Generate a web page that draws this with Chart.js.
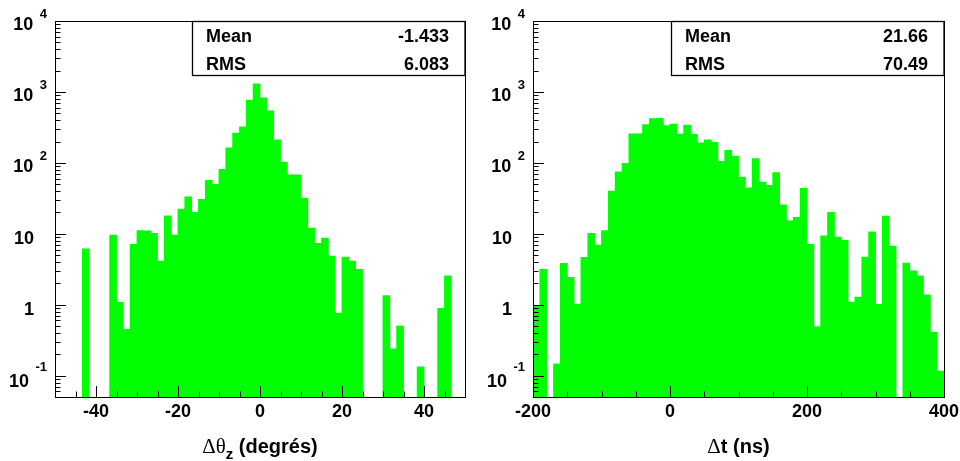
<!DOCTYPE html>
<html><head><meta charset="utf-8">
<script src="https://cdn.jsdelivr.net/npm/chart.js@4.4.0/dist/chart.umd.min.js"></script>
<style>
html,body{margin:0;padding:0;background:#fff;}
#wrap{position:relative;width:960px;height:461px;background:#fff;}
.pane{position:absolute;top:0;width:480px;height:461px;}
canvas{display:block;}
</style></head><body>
<div id="wrap">
<div class="pane" style="left:0"><canvas id="c1" width="480" height="461"></canvas></div>
<div class="pane" style="left:480px"><canvas id="c2" width="480" height="461"></canvas></div>
</div>
<script>
// ---- data ----
const thetaRange = [-50, 50];
const thetaCounts = [
  null, null, null, null, 6.1, null, null, null, 9.6, 1.08,
  0.45, 7.1, 11.1, 11.0, 10.1, 4.1, 17.9, 9.6, 22.3, 33.2,
  20.0, 30.5, 56.5, 49.6, 80.7, 162, 262, 321, 764, 1297,
  823, 540, 211, 102, 67.8, 67.8, 31.5, 12.0, 7.3, 8.7,
  4.85, 0.76, 4.7, 4.1, 3.15, null, null, null, 1.34, 0.238,
  0.5, null, null, 0.133, null, null, 0.89, 2.54, null, null
];
const dtRange = [-200, 400];
const dtCounts = [
  0.97, 3.15, null, 0.146, 3.83, 2.43, 1.02, 4.65, 10.1, 6.9,
  11.1, 40, 74.6, 98, 256, 256, 347, 421, 425, 336,
  351, 254, 340, 251, 191, 211, 194, 105, 150, 124,
  63, 44.5, 115, 53.5, 48, 73, 25.6, 15.2, 17, 43.5,
  7.1, 0.49, 9.3, 20, 9.0, 8.1, 1.09, 1.28, 4.7, 10.6,
  1.01, 17.7, 6.7, null, 3.87, 3.0, 2.54, 1.37, 0.41, 0.116
];
const thetaMajorTicks = [-40, -20, 0, 20, 40];
const thetaMinorTicks = [-45, -35, -30, -25, -15, -10, -5, 5, 10, 15, 25, 30, 35, 45];
const dtMajorTicks = [-200, 0, 200, 400];
const dtMinorTicks = [-150, -100, -50, 50, 100, 150, 250, 300, 350];
const yRange = [0.05, 10000];
const yMajorTicks = [0.1, 1, 10, 100, 1000, 10000];
const yLabelMantissa = ["10", "1", "10", "10", "10", "10"];
const yLabelExponent = ["-1", "", "", "2", "3", "4"];
const yMinorTicks = [0.06, 0.07, 0.08, 0.09,
  0.2, 0.3, 0.4, 0.5, 0.6, 0.7, 0.8, 0.9,
  2, 3, 4, 5, 6, 7, 8, 9,
  20, 30, 40, 50, 60, 70, 80, 90,
  200, 300, 400, 500, 600, 700, 800, 900,
  2000, 3000, 4000, 5000, 6000, 7000, 8000, 9000];
const statNames = ["Mean", "RMS"];
const thetaStatValues = ["-1.433", "6.083"];
const dtStatValues = ["21.66", "70.49"];

const SANS = '"Liberation Sans", Arial, Helvetica, sans-serif';
const SERIF = '"Liberation Serif", "Times New Roman", serif';

function drawRich(ctx, segs, cx, baseline) {
  let total = 0;
  segs.forEach(s => { ctx.font = s.font; s.w = ctx.measureText(s.text).width; total += s.w + (s.gap || 0); });
  let x = cx - total / 2;
  ctx.textAlign = 'left';
  ctx.textBaseline = 'alphabetic';
  segs.forEach(s => { ctx.font = s.font; ctx.fillText(s.text, x, baseline + (s.dy || 0)); x += s.w + (s.gap || 0); });
}

function rootPlugin(cfg) {
  return {
    id: 'rootStyle',
    afterDatasetsDraw(chart) {
      const ctx = chart.ctx;
      const xs = chart.scales.x, ys = chart.scales.y;
      const a = chart.chartArea;
      const L = Math.round(a.left), R = Math.round(a.right), T = Math.round(a.top), B = Math.round(a.bottom);
      ctx.save();
      ctx.strokeStyle = '#000';
      ctx.fillStyle = '#000';
      ctx.lineWidth = 1;
      // x ticks
      ctx.beginPath();
      cfg.major.forEach(v => { const p = Math.round(xs.getPixelForValue(v)) + 0.5; ctx.moveTo(p, B); ctx.lineTo(p, B - 11); });
      cfg.minor.forEach(v => { const p = Math.round(xs.getPixelForValue(v)) + 0.5; ctx.moveTo(p, B); ctx.lineTo(p, B - 5.5); });
      // y ticks
      yMajorTicks.forEach(v => { const p = Math.round(ys.getPixelForValue(v)) + 0.5; ctx.moveTo(L, p); ctx.lineTo(L + 11, p); });
      yMinorTicks.forEach(v => { const p = Math.round(ys.getPixelForValue(v)) + 0.5; ctx.moveTo(L, p); ctx.lineTo(L + 5.5, p); });
      ctx.stroke();
      // frame
      ctx.strokeRect(L + 0.5, T + 0.5, R - L, B - T);
      // x labels
      ctx.font = 'bold 18px ' + SANS;
      ctx.textAlign = 'center';
      ctx.textBaseline = 'alphabetic';
      cfg.major.forEach(v => { ctx.fillText(String(v), xs.getPixelForValue(v), B + 20); });
      // y labels
      yMajorTicks.forEach((v, i) => {
        const p = ys.getPixelForValue(v);
        const m = yLabelMantissa[i], e = yLabelExponent[i];
        ctx.textAlign = 'right';
        if (!e) {
          ctx.font = 'bold 18px ' + SANS;
          ctx.fillText(m, L - 21, p + 10);
        } else {
          const neg = e.startsWith('-');
          ctx.font = 'bold 13px ' + SANS;
          const ex = L - 8;
          const ew = ctx.measureText(e).width;
          ctx.fillText(e, ex, p + (neg ? -5 : -3));
          ctx.font = 'bold 18px ' + SANS;
          ctx.fillText(m, ex - ew - 6.5, p + (neg ? 11 : 9));
        }
      });
      // stats box
      const bx = R - 273, by = T, bw = 273, bh = 54;
      ctx.fillStyle = '#fff';
      ctx.fillRect(bx, by, bw, bh);
      ctx.strokeStyle = '#000';
      ctx.lineWidth = 1.3;
      ctx.strokeRect(bx + 0.5, by + 0.5, bw - 0.5, bh);
      ctx.fillStyle = '#000';
      ctx.font = 'bold 18px ' + SANS;
      statNames.forEach((n, i) => {
        const yb = T + 21 + i * 27.6;
        ctx.textAlign = 'left';
        ctx.fillText(n, bx + 14, yb);
        ctx.textAlign = 'right';
        ctx.fillText(cfg.stats[i], R - 16, yb);
      });
      // axis title
      drawRich(ctx, cfg.title, (L + R) / 2, 453);
      ctx.restore();
    }
  };
}

function makeChart(id, cfg) {
  const n = cfg.counts.length;
  const step = (cfg.range[1] - cfg.range[0]) / n;
  const centers = cfg.counts.map((_, i) => cfg.range[0] + (i + 0.5) * step);
  const data = cfg.counts.map((v, i) => ({ x: centers[i], y: v }));
  return new Chart(document.getElementById(id), {
    type: 'bar',
    data: { datasets: [{ data, backgroundColor: '#00ff00', borderWidth: 0, barPercentage: 1, categoryPercentage: 1, inflateAmount: 0.4 }] },
    options: {
      responsive: false, animation: false, devicePixelRatio: 1,
      layout: { padding: cfg.pad },
      plugins: { legend: { display: false }, tooltip: { enabled: false }, title: { display: false } },
      scales: {
        x: { type: 'linear', min: cfg.range[0], max: cfg.range[1], offset: false, display: false },
        y: { type: 'logarithmic', min: yRange[0], max: yRange[1], display: false }
      }
    },
    plugins: [rootPlugin(cfg)]
  });
}

makeChart('c1', {
  counts: thetaCounts, range: thetaRange, major: thetaMajorTicks, minor: thetaMinorTicks,
  stats: thetaStatValues,
  pad: { left: 55, right: 15, top: 21, bottom: 64 },
  title: [
    { text: 'Δθ', font: '21px ' + SERIF },
    { text: 'z', font: 'bold 15px ' + SANS, dy: 6 },
    { text: ' (degrés)', font: 'bold 20px ' + SANS }
  ]
});
makeChart('c2', {
  counts: dtCounts, range: dtRange, major: dtMajorTicks, minor: dtMinorTicks,
  stats: dtStatValues,
  pad: { left: 53, right: 16, top: 21, bottom: 64 },
  title: [
    { text: 'Δ', font: '21px ' + SERIF },
    { text: 't (ns)', font: 'bold 20px ' + SANS }
  ]
});
</script>
</body></html>
